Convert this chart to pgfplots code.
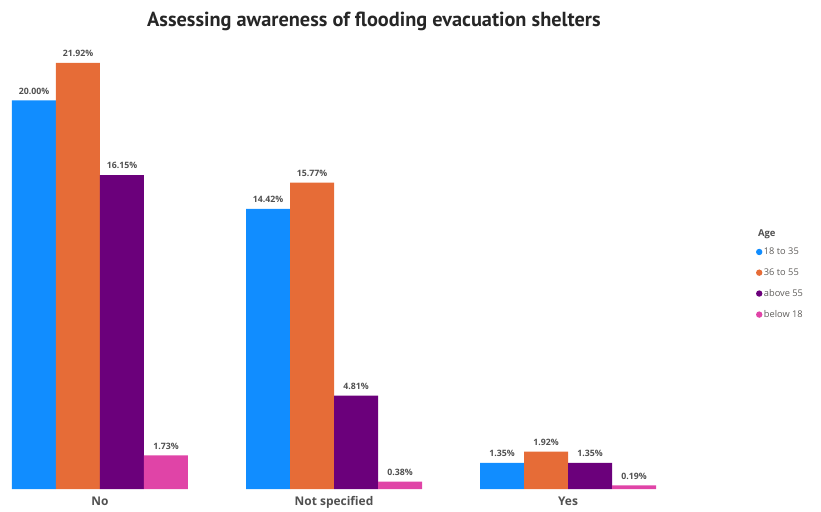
\documentclass[border=0pt]{standalone}
\usepackage{pgfplots}
\pgfplotsset{compat=1.18}
\usepackage{fontspec}
\setmainfont{Open Sans}
\newfontfamily\titlefont{PT Sans}
\definecolor{cA}{HTML}{118DFF}
\definecolor{cB}{HTML}{E66C37}
\definecolor{cC}{HTML}{6B007B}
\definecolor{cD}{HTML}{E044A7}
\definecolor{lbl}{HTML}{505050}
\definecolor{leg}{HTML}{605E5C}
\begin{document}
\begin{tikzpicture}[x=1bp,y=1bp]
\begin{axis}[
  name=ax, at={(0,0)}, anchor=south west,
  scale only axis, width=644bp, height=426bp,
  xmin=-0.376, xmax=2.376, ymin=0, ymax=21.92,
  axis line style={draw=none}, clip=false,
  ytick=\empty, major tick length=0pt,
  ybar=0pt, bar width=44bp,
  xtick=data, xticklabels={No, Not specified, Yes},
  xticklabel style={font=\fontsize{12}{14}\selectfont\bfseries, text=lbl, yshift=-4bp},
  /pgf/number format/assume math mode=true,
  nodes near coords={\pgfmathprintnumber[fixed,fixed zerofill,precision=2]{\pgfplotspointmeta}\%},
  nodes near coords style={font=\fontsize{8.8}{10}\selectfont\bfseries, text=lbl, anchor=south, yshift=2.5bp},
  legend image code/.code={\fill[#1,draw=none] (3bp,0bp) circle (3.2bp);},
  legend style={at={(axis description cs:1.155,0.57)}, anchor=north west, draw=none, fill=none,
    font=\fontsize{9.3}{10}\selectfont\color{leg}, row sep=9.5bp, inner sep=0pt,
    nodes={inner sep=1.5bp}},
  legend cell align=left,
]
\addplot[fill=cA, draw=none] coordinates {(0,20.00) (1,14.42) (2,1.35)};
\addplot[fill=cB, draw=none] coordinates {(0,21.92) (1,15.77) (2,1.92)};
\addplot[fill=cC, draw=none] coordinates {(0,16.15) (1,4.81) (2,1.35)};
\addplot[fill=cD, draw=none] coordinates {(0,1.73) (1,0.38) (2,0.19)};
\legend{18 to 35, 36 to 55, above 55, below 18}
\node[anchor=center, font=\titlefont\fontsize{20.4}{24}\selectfont\bfseries, text=black!85] at (axis description cs:0.562,1.097) {Assessing awareness of flooding evacuation shelters};
\node[anchor=west, font=\fontsize{9.5}{11}\selectfont\bfseries, text=lbl] at (axis description cs:1.153,0.597) {Age};
\end{axis}
\path (ax.south west) ++(-12bp,-23bp) rectangle ++(821bp,512bp);
\end{tikzpicture}
\end{document}
